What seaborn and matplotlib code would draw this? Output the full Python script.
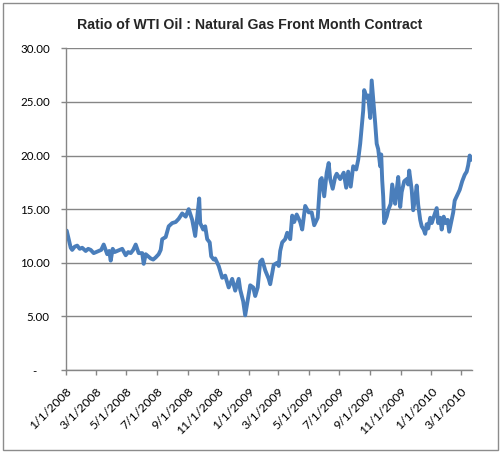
import pandas as pd
import seaborn as sns
import matplotlib.pyplot as plt
from matplotlib.patches import Rectangle

# days after 1/1/2008 and the oil : gas ratio
start_date = "2008-01-01"
day_offset = [2, 6, 10, 13, 18, 23, 28, 33, 40, 45, 50, 56, 61, 66, 71, 76, 83, 87, 90, 94,
              98, 103, 108, 113, 120, 125, 130, 135, 140, 146, 153, 156, 160, 165, 170, 175,
              180, 186, 190, 193, 200, 206, 213, 220, 226, 233, 240, 246, 253, 259, 263, 267,
              269, 275, 279, 283, 288, 291, 296, 299, 306, 313, 319, 326, 333, 339, 346, 349,
              355, 359, 364, 369, 375, 379, 384, 389, 393, 399, 406, 409, 416, 423, 426, 429,
              433, 439, 443, 449, 453, 457, 462, 469, 473, 479, 486, 492, 497, 504, 509, 512,
              517, 522, 526, 529, 534, 539, 542, 549, 556, 561, 565, 570, 575, 581, 585, 589,
              592, 595, 597, 602, 605, 609, 612, 615, 619, 622, 625, 629, 631, 633, 635, 637,
              642, 645, 650, 653, 659, 662, 665, 669, 672, 677, 682, 685, 687, 692, 695, 700,
              702, 705, 709, 712, 716, 719, 722, 725, 729, 732, 737, 742, 745, 749, 752, 756,
              760, 764, 767, 772, 775, 778, 784, 788, 793, 798, 802, 805, 808, 812]
ratio = [13.0, 12.2, 11.4, 11.2, 11.5, 11.6, 11.3, 11.4, 11.1, 11.3, 11.2, 10.9, 11.0, 11.1,
         11.2, 11.7, 10.8, 11.1, 10.2, 11.3, 11.0, 11.1, 11.2, 11.3, 10.7, 11.0, 10.9, 11.2,
         11.7, 10.9, 10.9, 9.9, 10.8, 10.6, 10.4, 10.3, 10.5, 10.8, 11.2, 12.2, 12.4, 13.4,
         13.7, 13.8, 14.1, 14.6, 14.3, 15.0, 14.0, 12.5, 14.3, 16.0, 13.7, 13.1, 13.4, 12.2,
         11.9, 10.6, 10.3, 10.4, 9.7, 8.6, 8.8, 7.7, 8.5, 7.4, 8.5, 7.5, 6.4, 5.1, 6.5, 7.9,
         7.7, 6.9, 7.7, 10.1, 10.3, 9.3, 8.5, 8.0, 9.8, 10.0, 9.7, 11.1, 11.9, 12.2, 12.8,
         12.2, 14.4, 13.8, 14.5, 13.8, 13.1, 15.3, 14.7, 14.7, 13.5, 14.2, 17.7, 17.9, 16.2,
         18.4, 19.3, 17.8, 16.9, 18.0, 18.3, 17.8, 18.4, 17.0, 18.5, 17.1, 19.0, 18.7, 19.6,
         21.1, 22.7, 24.2, 26.1, 25.4, 25.6, 23.5, 27.0, 25.3, 23.0, 21.1, 20.6, 19.0, 20.1,
         17.7, 16.2, 13.7, 14.3, 14.9, 15.5, 17.3, 15.5, 16.8, 18.0, 15.2, 16.6, 17.6, 17.8,
         17.3, 18.6, 16.8, 14.9, 16.4, 17.2, 15.4, 14.0, 13.4, 13.1, 12.7, 13.6, 13.2, 14.2,
         13.7, 14.4, 15.1, 13.7, 14.2, 13.1, 14.3, 13.7, 14.0, 12.9, 14.0, 14.7, 15.8, 16.4,
         16.8, 17.6, 18.2, 18.5, 19.1, 20.0, 19.6]
y_ticks = [0, 5, 10, 15, 20, 25, 30]
y_tick_labels = ["-    ", "5.00", "10.00", "15.00", "20.00", "25.00", "30.00"]
x_tick_dates = ["2008-01-01", "2008-03-01", "2008-05-01", "2008-07-01", "2008-09-01",
                "2008-11-01", "2009-01-01", "2009-03-01", "2009-05-01", "2009-07-01",
                "2009-09-01", "2009-11-01", "2010-01-01", "2010-03-01"]

df = pd.DataFrame({"date": pd.Timestamp(start_date) + pd.to_timedelta(day_offset, unit="D"),
                   "ratio": ratio})

sns.set_style("white")
plt.rcParams['font.family'] = ['Lato', 'DejaVu Sans']

fig = plt.figure(figsize=(5, 4.53), dpi=100)
ax = fig.add_axes([0.1314, 0.1832, 0.812, 0.7102])

# chart area border
fig.patches.append(Rectangle((0.006, 0.006), 0.99, 0.988, transform=fig.transFigure,
                             fill=False, edgecolor="#8c8c8c", linewidth=1))

sns.lineplot(data=df, x="date", y="ratio", ax=ax, color="#4a7ebb", linewidth=2.8)

ax.set_ylim(0, 30)
ax.set_xlim(pd.Timestamp("2008-01-01"), df["date"].iloc[-1])
ax.set_yticks(y_ticks)
ax.set_yticklabels(y_tick_labels)
ticks = pd.to_datetime(x_tick_dates)
ax.set_xticks(ticks)
ax.set_xticklabels([f"{d.month}/{d.day}/{d.year}" for d in ticks], rotation=45,
                   ha="right", rotation_mode="anchor")
ax.grid(axis="y", color="#868686", linewidth=1)
ax.set_axisbelow(True)

for side in ["top", "right"]:
    ax.spines[side].set_visible(False)
for side in ["left", "bottom"]:
    ax.spines[side].set_color("#868686")
    ax.spines[side].set_linewidth(1)
ax.tick_params(axis="both", which="major", direction="out", length=3.5, width=1,
               color="#868686", labelcolor="black", left=True, bottom=True)
ax.tick_params(axis="y", pad=8, labelsize=8.3)
ax.tick_params(axis="x", pad=8, labelsize=8.8)
ax.set_xlabel("")
ax.set_ylabel("")

fig.text(0.5, 0.945, "Ratio of WTI Oil : Natural Gas Front Month Contract",
         ha="center", va="center", fontsize=10.2, fontweight="bold",
         family=["Liberation Sans", "DejaVu Sans"])

plt.savefig("out.png", dpi=100)
